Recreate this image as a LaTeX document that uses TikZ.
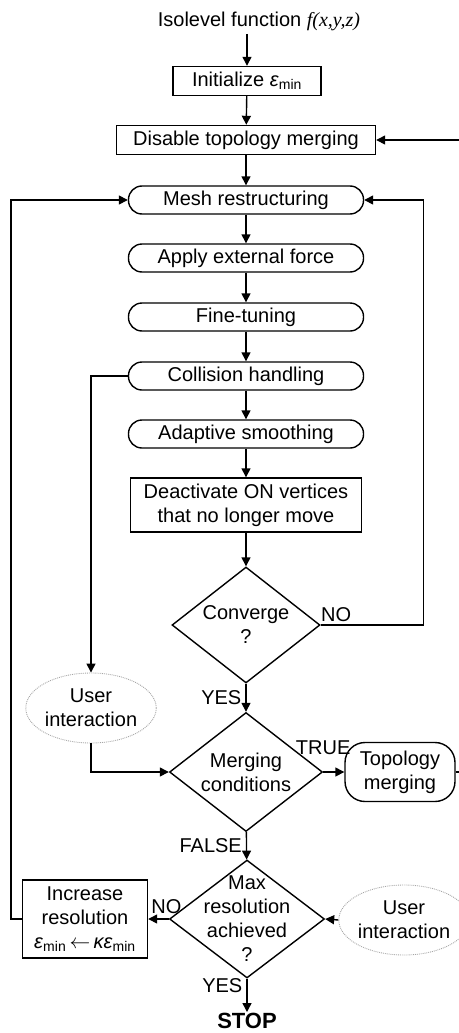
\documentclass[tikz,border=0pt]{standalone}
\usepackage{fontspec}
\setmainfont{Liberation Sans}
\newfontfamily\serifit{Liberation Serif}
\usetikzlibrary{shapes.geometric, arrows.meta, positioning, calc}
\tikzset{
  % Box styles
  procbox/.style={rectangle, draw, line width=1.4pt, minimum height=29pt, inner sep=2pt, align=center},
  stepround/.style={rectangle, rounded corners=13.5pt, draw, line width=1.4pt, minimum width=235pt, minimum height=28pt, inner sep=0pt},
  decision/.style={diamond, draw, line width=1.4pt, inner sep=0pt},
  userbox/.style={ellipse, draw=gray!70, densely dotted, line width=0.9pt, inner sep=0pt, minimum width=125pt, minimum height=70pt, align=center},
  % Arrow styles
  flow/.style={-{Triangle[length=9pt,width=9pt]}, line width=1.4pt}
}
\newcommand{\epsmin}{\textit{ε}\textsubscript{min}}

\begin{document}
\begin{tikzpicture}[x=1pt, y=-1pt, every node/.append style={font=\fontsize{20}{24}\selectfont}]
  \useasboundingbox (0,0) rectangle (458,1033);

  \node (title) at (259,21) {Isolevel function {\serifit\itshape f(x,y,z)}};
  \node[procbox, minimum width=148pt] (init) at (247,81) {Initialize \epsmin};
  \node[procbox, minimum width=259pt] (disable) at (246,140) {Disable topology merging};

  \node[stepround] (mesh) at (246,200) {Mesh restructuring};
  \node[stepround] (force) at (246,258) {Apply external force};
  \node[stepround] (fine) at (246,317) {Fine-tuning};
  \node[stepround] (collide) at (246,376) {Collision handling};
  \node[stepround] (smooth) at (246,434) {Adaptive smoothing};
  \node[procbox, minimum width=231pt, minimum height=54pt] (deact) at (246,505) {Deactivate ON vertices\\that no longer move};

  \node[decision, minimum width=148pt, minimum height=116pt,
        label={[align=center]center:Converge\\?}] (conv) at (246,625) {};
  \node[decision, minimum width=153pt, minimum height=119pt,
        label={[align=center]center:Merging\\conditions}] (merge) at (246,772) {};
  \node[decision, minimum width=155pt, minimum height=118pt,
        label={[align=center]center:Max\\resolution\\achieved\\?}] (maxres) at (247,919) {};

  \node[rectangle, rounded corners=20pt, draw, line width=1.4pt, minimum width=110pt, minimum height=59pt, inner sep=0pt, align=center] (topo) at (400,772) {Topology\\merging};
  \node[userbox] (user1) at (91,708) {User\\interaction};
  \node[userbox] (user2) at (404,920) {User\\interaction};
  \node[procbox, minimum width=125pt, minimum height=78pt, inner sep=1pt] (incr) at (85,919) {Increase\\resolution\\\epsmin\,$\leftarrow$\,\textit{κε}\textsubscript{min}};
  \node[font=\fontsize{22}{24}\selectfont\bfseries, inner sep=1pt] (stop) at (247,1021) {STOP};

  % main flow
  \draw[flow] (init.north |- title.south) -- (init);
  \draw[flow] (init) -- (disable);
  \draw[flow] (disable) -- (mesh);
  \draw[flow] (mesh) -- (force);
  \draw[flow] (force) -- (fine);
  \draw[flow] (fine) -- (collide);
  \draw[flow] (collide) -- (smooth);
  \draw[flow] (smooth) -- (deact);
  \draw[flow] (deact) -- (conv);
  \draw[flow] (conv) -- node[left, inner sep=4pt] {YES} (merge);
  \draw[flow] (merge) -- node[left, inner sep=4pt] {FALSE} (maxres);
  \draw[flow] (maxres) -- node[left, pos=0.2, inner sep=4pt] {YES} (stop);

  % loops
  \draw[flow] (conv.east) -- node[above, pos=0.15, inner sep=3pt] {NO} ++(103,0) |- (mesh.east);
  \draw[flow] (collide.west) -| (user1.north);
  \draw[flow] (user1.south) |- (merge.west);
  \draw[flow] (merge.east) -- node[above, pos=0, yshift=13pt] {TRUE} (topo.west);
  \draw[flow] (topo.east) -- ++(8,0) |- (disable.east);
  \draw[flow] (maxres.west) -- node[above, pos=0.12, inner sep=5pt] {NO} (incr.east);
  \draw[flow] (incr.west) -- ++(-11,0) |- (mesh.west);
  \draw[flow] (user2.west) -- (maxres.east);
\end{tikzpicture}
\end{document}
